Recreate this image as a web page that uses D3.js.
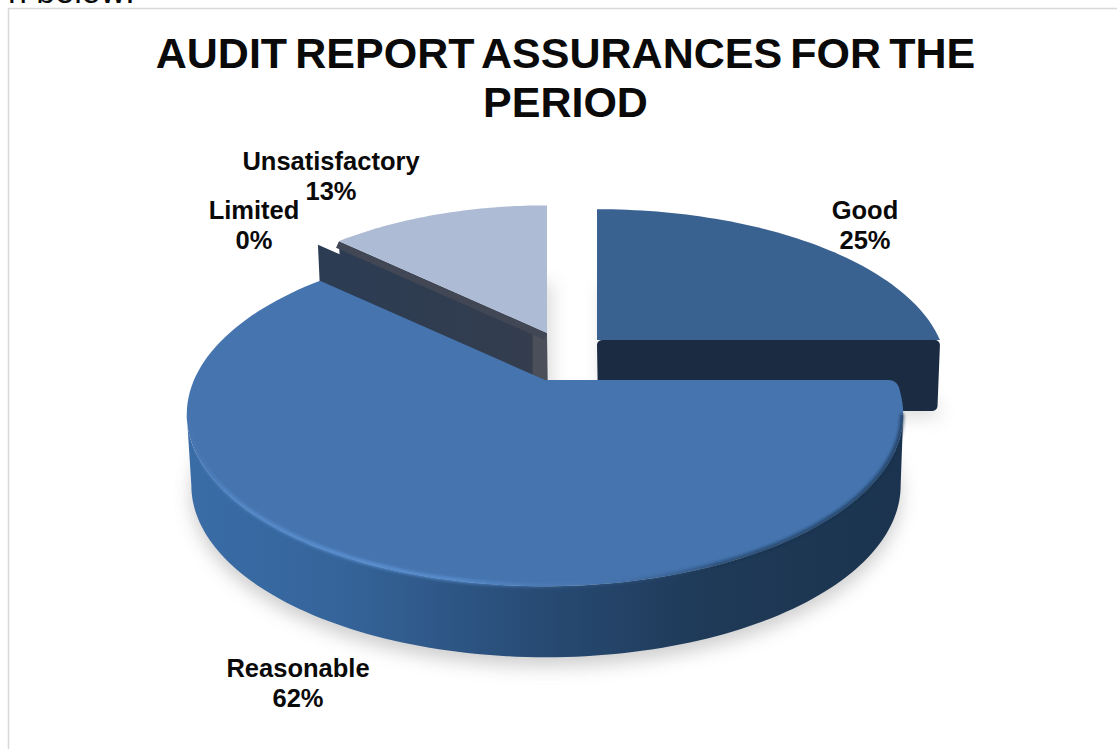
<!DOCTYPE html>
<html><head><meta charset="utf-8">
<script src="https://cdn.jsdelivr.net/npm/d3@7"></script>
<style>
html,body{margin:0;padding:0;background:#fff}
svg{display:block}
text{font-family:"Liberation Sans",Arial,sans-serif;font-weight:700;fill:#0a0a0a;text-anchor:middle}
</style></head><body>
<svg id="chart" width="1117" height="749"></svg>
<script>
const categories = ["Good", "Reasonable", "Limited", "Unsatisfactory"];
const percents = [25, 62, 0, 13];
const titleLines = ["AUDIT REPORT ASSURANCES FOR THE", "PERIOD"];

const svg = d3.select("#chart");

// Perspective disc: unit-circle points are foreshortened toward the back.
const RX = 351, RY = 165, P = 0.2, WALL = 71;
const slicePlacement = {
  Good:           {ax: 597, ay: 340, r: 0.977, ry: 0.97},
  Reasonable:     {ax: 545, ay: 380, r: 1, ry: 1},
  Limited:        {ax: 543, ay: 344, r: 1, ry: 1},
  Unsatisfactory: {ax: 547, ay: 333, r: 0.915, ry: 1}
};
function topPt(p, a, k = 1) {
  const u = Math.sin(a) * p.r * k, v = Math.cos(a) * p.r * k, d = 1 + P * v;
  return [p.ax + RX * u / d, p.ay - p.ry * RY * v / d];
}
function basePt(p, a, k = 1) {
  const [x, y] = topPt(p, a, k);
  return [p.ax + 0.99 * (x - p.ax) + 1, y + WALL];
}
const angleSamples = (a0, a1, n = 120) => d3.range(n + 1).map(i => a0 + (a1 - a0) * i / n);

const pieLayout = d3.pie().sort(null).value(d => d.value);
const arcs = pieLayout(categories.map((c, i) => ({name: c, value: percents[i]})));
const byName = Object.fromEntries(arcs.map(a => [a.data.name, a]));
const line = d3.line();
const closed = pts => line(pts) + "Z";

const defs = svg.append("defs");
defs.append("filter").attr("id", "soft").attr("x", "-20%").attr("y", "-20%").attr("width", "140%").attr("height", "140%")
  .append("feGaussianBlur").attr("stdDeviation", 9);
defs.append("filter").attr("id", "fine").attr("x", "-20%").attr("y", "-20%").attr("width", "140%").attr("height", "140%")
  .append("feGaussianBlur").attr("stdDeviation", 1.4);
function hGrad(id, stops, x1, x2) {
  const g = defs.append("linearGradient").attr("id", id).attr("gradientUnits", "userSpaceOnUse")
    .attr("x1", x1).attr("x2", x2).attr("y1", 0).attr("y2", 0);
  stops.forEach(([o, c, a]) => g.append("stop").attr("offset", o).attr("stop-color", c).attr("stop-opacity", a ?? 1));
}
hGrad("rimFill", [[0, "#3a6ca6"], [0.22, "#35649a"], [0.5, "#274a73"], [0.72, "#1f3a58"], [1, "#1b334e"]], 186, 903);
hGrad("bevel", [[0, "#5b93d6", 0], [0.06, "#5b93d6", 0.6], [0.2, "#5b93d6", 0.9], [0.38, "#5f97da", 0.7], [0.55, "#4f80bd", 0.2], [0.75, "#16304c", 0.6], [1, "#16304c", 0.7]], 186, 903);
hGrad("cutFace", [[0, "#2c3c53"], [0.93, "#333d4e"], [0.935, "#4a4f5a"], [1, "#4a4f5a"]], 333, 547);

// Frame around the chart area
svg.append("path").attr("d", "M1117 8.5H8.5V749").attr("fill", "none").attr("stroke", "#d9d9d9").attr("stroke-width", 1.5);

// Clipped sentence fragment above the frame
svg.append("text").attr("x", 8).attr("y", 3).style("text-anchor", "start").style("font-weight", 400)
  .attr("font-size", 34).text("n below:");

// Soft ground shadows
const R = slicePlacement.Reasonable, G = slicePlacement.Good, L = slicePlacement.Limited, U = slicePlacement.Unsatisfactory;
const ra0 = byName.Reasonable.startAngle, ra1 = byName.Reasonable.endAngle;
svg.append("path").attr("filter", "url(#soft)").attr("fill", "#8b8b8b").attr("opacity", 0.42)
  .attr("transform", "translate(0,9)")
  .attr("d", closed(angleSamples(ra0, ra1).map(a => basePt(R, a))));
svg.append("path").attr("filter", "url(#soft)").attr("fill", "#8b8b8b").attr("opacity", 0.3)
  .attr("transform", "translate(4,6)")
  .attr("d", closed([...angleSamples(0, Math.PI / 2, 40).map(a => basePt(G, a)), basePt(G, 0, 0)]));
svg.append("path").attr("filter", "url(#soft)").attr("fill", "#8b8b8b").attr("opacity", 0.3)
  .attr("transform", "translate(4,6)")
  .attr("d", closed([...angleSamples(byName.Unsatisfactory.startAngle, 2 * Math.PI, 40).map(a => basePt(U, a)), basePt(U, 0, 0)]));

// Good: side wall along its clockwise cut with a rounded lower corner, then the top
const gEnd = byName.Good.endAngle;
const gInset = 5;
svg.append("path").attr("fill", "#1a2b42").attr("stroke", "#1a2b42")
  .attr("stroke-width", gInset * 2).attr("stroke-linejoin", "round")
  .attr("d", closed([
    [topPt(G, gEnd, 0)[0] + gInset, topPt(G, gEnd)[1] + gInset],
    [topPt(G, gEnd)[0] - gInset, topPt(G, gEnd)[1] + gInset],
    [basePt(G, gEnd)[0] - gInset, basePt(G, gEnd)[1] - gInset],
    [basePt(G, gEnd, 0)[0] + gInset, basePt(G, gEnd)[1] - gInset]
  ]));
svg.append("path").attr("fill", "#3a6291")
  .attr("d", closed([topPt(G, 0, 0), ...angleSamples(0, gEnd, 60).map(a => topPt(G, a))]));

// Limited: a zero-width slice shows only its cut face
const lAngle = byName.Limited.startAngle;
svg.append("path").attr("fill", "#2c3c53")
  .attr("d", closed([topPt(L, lAngle), topPt(L, lAngle, 0.5), basePt(L, lAngle, 0.5), basePt(L, lAngle)]));

// Unsatisfactory: exposed cut face, then the top
const uStart = byName.Unsatisfactory.startAngle;
svg.append("path").attr("fill", "url(#cutFace)")
  .attr("d", closed([topPt(U, uStart), topPt(U, uStart, 0), basePt(U, uStart, 0), basePt(U, uStart)]));
svg.append("path").attr("fill", "none").attr("stroke", "#414754").attr("stroke-width", 7)
  .attr("d", line([topPt(U, uStart), topPt(U, uStart, 0)])).attr("transform", "translate(-1.5,3.5)");
svg.append("path").attr("fill", "#adbbd5")
  .attr("d", closed([topPt(U, 0, 0), ...angleSamples(uStart, 2 * Math.PI, 50).map(a => topPt(U, a))]));

// Reasonable: outer rim (front part only), top surface, and the bevel along the rim
const frontRim = angleSamples(Math.PI / 2 + 0.2, 3 * Math.PI / 2 - 0.2);
svg.append("path").attr("fill", "url(#rimFill)")
  .attr("d", closed([...frontRim.map(a => topPt(R, a)), ...frontRim.slice().reverse().map(a => basePt(R, a))]));
const cornerEnd = topPt(R, ra0 + 0.07);
const cornerStart = topPt(R, ra0);
svg.append("path").attr("fill", "#4674ae")
  .attr("d", `M${topPt(R, 0, 0)}L${cornerStart[0] - 7},${cornerStart[1]}Q${cornerStart[0] + 2},${cornerStart[1]} ${cornerEnd}`
    + angleSamples(ra0 + 0.07, ra1).map(a => "L" + topPt(R, a)).join("") + "Z");
svg.append("path").attr("fill", "none").attr("stroke", "url(#bevel)").attr("stroke-width", 4).attr("filter", "url(#fine)")
  .attr("d", line(frontRim.map(a => topPt(R, a, 0.997))));

// Title
const title = svg.append("text").attr("font-size", 43).style("word-spacing", "-3.75px");
title.selectAll("tspan").data(titleLines).join("tspan")
  .attr("x", 565.5).attr("y", (d, i) => 67.5 + i * 49.5).text(d => d);

// Data labels, positioned beside their slices
const labelAt = {
  Good: [865, 219], Reasonable: [298, 677], Limited: [254, 219], Unsatisfactory: [331, 170]
};
categories.forEach((c, i) => {
  const [x, y] = labelAt[c];
  const t = svg.append("text").attr("font-size", 25.5);
  t.append("tspan").attr("x", x).attr("y", y).text(c);
  t.append("tspan").attr("x", x).attr("y", y + 30).text(percents[i] + "%");
});
</script>
</body></html>
